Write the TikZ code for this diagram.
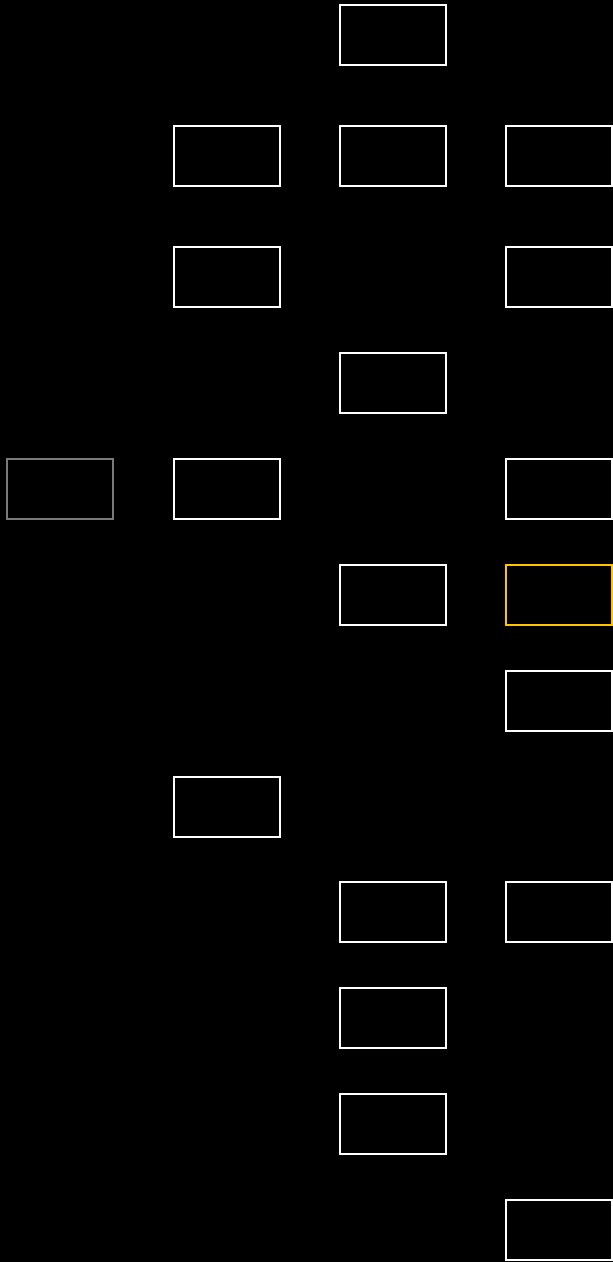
\documentclass[tikz,border=0pt]{standalone}
\definecolor{boxgray}{HTML}{7A7A7A}
\definecolor{boxgold}{HTML}{FFC400}
\begin{document}
\begin{tikzpicture}[x=1pt,y=-1pt,
  box/.style={draw=white,line width=1.8pt,minimum width=105.5pt,minimum height=60pt,inner sep=0pt,outer sep=0pt,shape=rectangle},
  graybox/.style={box,draw=boxgray},
  goldbox/.style={box,draw=boxgold}]
\fill[black] (0,0) rectangle (613,1262);
\useasboundingbox (0,0) rectangle (613,1262);
% column centres: 60, 227, 393, 559
\node[box] (c2r1) at (393,35) {};
\node[box] (c1r2) at (227,156) {};
\node[box] (c2r2) at (393,156) {};
\node[box] (c3r2) at (559,156) {};
\node[box] (c1r3) at (227,277) {};
\node[box] (c3r3) at (559,277) {};
\node[box] (c2r4) at (393,383) {};
\node[graybox] (c0r5) at (60,489) {};
\node[box] (c1r5) at (227,489) {};
\node[box] (c3r5) at (559,489) {};
\node[box] (c2r6) at (393,595) {};
\node[goldbox] (c3r6) at (559,595) {};
\node[box] (c3r7) at (559,701) {};
\node[box] (c1r8) at (227,807) {};
\node[box] (c2r9) at (393,912) {};
\node[box] (c3r9) at (559,912) {};
\node[box] (c2r10) at (393,1018) {};
\node[box] (c2r11) at (393,1124) {};
\node[box] (c3r12) at (559,1230) {};
\end{tikzpicture}
\end{document}
